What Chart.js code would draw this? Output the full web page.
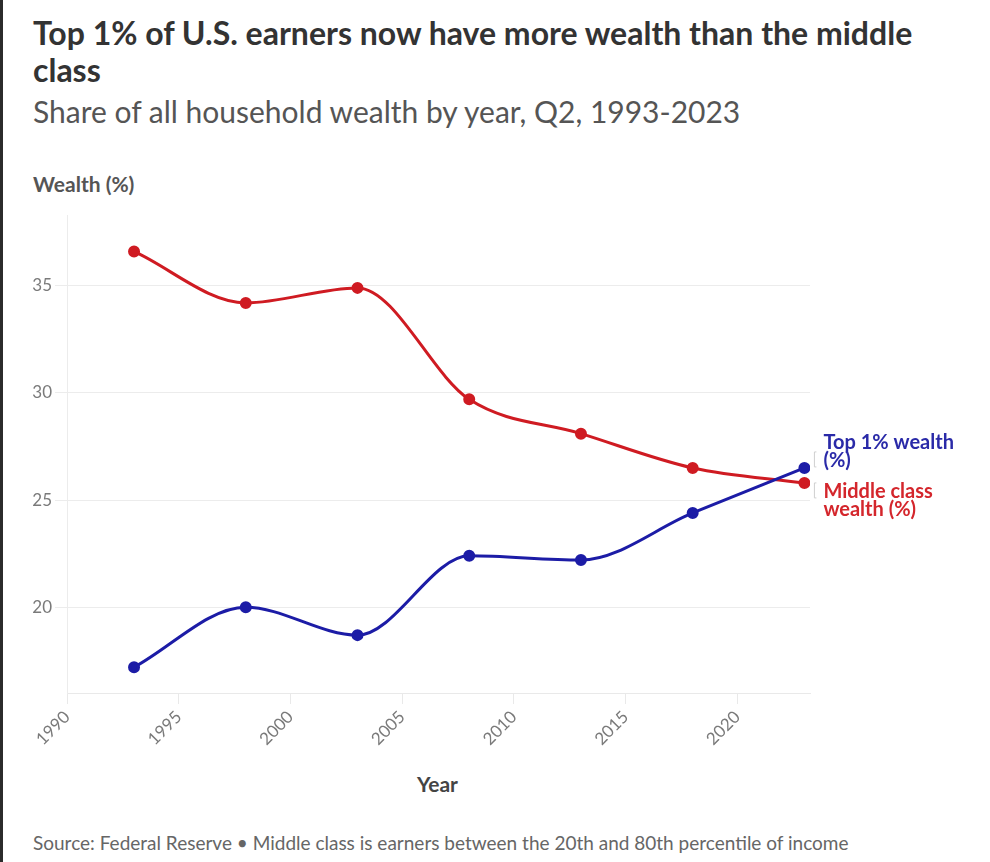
<!DOCTYPE html>
<html>
<head>
<meta charset="utf-8">
<script src="https://cdn.jsdelivr.net/npm/chart.js@4.4.0/dist/chart.umd.min.js"></script>
<style>
  html, body { margin: 0; padding: 0; background: #fff; }
  body { width: 990px; height: 862px; position: relative; overflow: hidden; font-family: Lato, sans-serif; }
  .edge { position: absolute; left: 0; top: 0; width: 3px; height: 862px; background: #2b2b2b; }
  #title { position: absolute; left: 33px; top: 14px; font-size: 32px; font-weight: 700; color: #333; line-height: 37px; white-space: nowrap; }
  #subtitle { position: absolute; left: 33px; top: 93px; font-size: 30px; color: #555; white-space: nowrap; }
  #ytitle { position: absolute; left: 33px; top: 171px; font-size: 21px; font-weight: 700; color: #555; }
  #xtitle { position: absolute; left: 417px; top: 771px; font-size: 21px; font-weight: 700; color: #444; }
  #source { position: absolute; left: 33px; top: 831px; font-size: 19px; color: #666; white-space: nowrap; }
  #chart { position: absolute; left: 0; top: 0; }
</style>
</head>
<body>
<div class="edge"></div>
<div id="title">Top 1% of U.S. earners now have more wealth than the middle<br>class</div>
<div id="subtitle">Share of all household wealth by year, Q2, 1993-2023</div>
<div id="ytitle">Wealth (%)</div>
<div id="xtitle">Year</div>
<div id="source">Source: Federal Reserve • Middle class is earners between the 20th and 80th percentile of income</div>
<canvas id="chart" width="990" height="862"></canvas>
<script>
// data kuartal 2 tiap 5 tahun
const years = [1993, 1998, 2003, 2008, 2013, 2018, 2023];
const top1Wealth = [17.2, 20.0, 18.7, 22.4, 22.2, 24.4, 26.5];
const middleWealth = [36.6, 34.2, 34.9, 29.7, 28.1, 26.5, 25.8];
const xTicks = [1990, 1995, 2000, 2005, 2010, 2015, 2020];
const yTicks = [20, 25, 30, 35];

const BLUE = "#1c1ca6";
const RED = "#cf1b22";

const toPoints = (vals) => years.map((y, i) => ({ x: y, y: vals[i] }));

// label di ujung garis
const endLabels = {
  id: "endLabels",
  afterDatasetsDraw(chart) {
    const ctx = chart.ctx;
    const items = [
      { idx: 0, lines: ["Top 1% wealth", "(%)"], color: "#2a2aa8", top: -25, brTop: -16, brBot: -1 },
      { idx: 1, lines: ["Middle class", "wealth (%)"], color: "#d4262c", top: 9, brTop: 0, brBot: 15 },
    ];
    ctx.save();
    items.forEach((it) => {
      const pts = chart.getDatasetMeta(it.idx).data;
      const p = pts[pts.length - 1];
      const bx = p.x + 10;
      ctx.strokeStyle = "#cfcfcf";
      ctx.lineWidth = 1;
      ctx.beginPath();
      ctx.moveTo(bx + 2, p.y + it.brTop);
      ctx.lineTo(bx, p.y + it.brTop);
      ctx.lineTo(bx, p.y + it.brBot);
      ctx.lineTo(bx + 2, p.y + it.brBot);
      ctx.stroke();
      ctx.fillStyle = it.color;
      ctx.font = "bold 20px Lato";
      ctx.textBaseline = "middle";
      ctx.textAlign = "left";
      it.lines.forEach((t, k) => ctx.fillText(t, p.x + 19, p.y + it.top + k * 18));
    });
    ctx.restore();
  },
};

new Chart(document.getElementById("chart"), {
  type: "line",
  data: {
    datasets: [
      {
        label: "Top 1% wealth (%)",
        data: toPoints(top1Wealth),
        borderColor: BLUE,
        backgroundColor: BLUE,
        borderWidth: 3,
        pointRadius: 4.5,
        pointHoverRadius: 4.5,
        cubicInterpolationMode: "monotone",
      },
      {
        label: "Middle class wealth (%)",
        data: toPoints(middleWealth),
        borderColor: RED,
        backgroundColor: RED,
        borderWidth: 3,
        pointRadius: 4.5,
        pointHoverRadius: 4.5,
        cubicInterpolationMode: "monotone",
      },
    ],
  },
  options: {
    responsive: false,
    animation: false,
    devicePixelRatio: 1,
    layout: { padding: { top: 215, left: 0, right: 180, bottom: 89 } },
    plugins: { legend: { display: false }, tooltip: { enabled: false } },
    scales: {
      x: {
        type: "linear",
        min: 1990,
        max: 2023.25,
        afterBuildTicks: (s) => { s.ticks = xTicks.map((v) => ({ value: v })); },
        afterFit: (s) => { s.height = 80; },
        grid: { drawOnChartArea: false, drawTicks: true, tickLength: 11, color: "#e9e9e9" },
        border: { display: true, color: "#e9e9e9" },
        ticks: {
          minRotation: 45,
          maxRotation: 45,
          padding: 3,
          color: "#7a7a7a",
          font: { family: "Lato", size: 17 },
          callback: (v) => String(v),
        },
      },
      y: {
        min: 16,
        max: 38.3,
        afterBuildTicks: (s) => { s.ticks = yTicks.map((v) => ({ value: v })); },
        afterFit: (s) => { s.width = 67; },
        grid: { color: "#ececec", drawTicks: true, tickLength: 12 },
        border: { display: true, color: "#ececec" },
        ticks: {
          padding: 3,
          color: "#7a7a7a",
          font: { family: "Lato", size: 17 },
          callback: (v) => String(v),
        },
      },
    },
  },
  plugins: [endLabels],
});
</script>
</body>
</html>
